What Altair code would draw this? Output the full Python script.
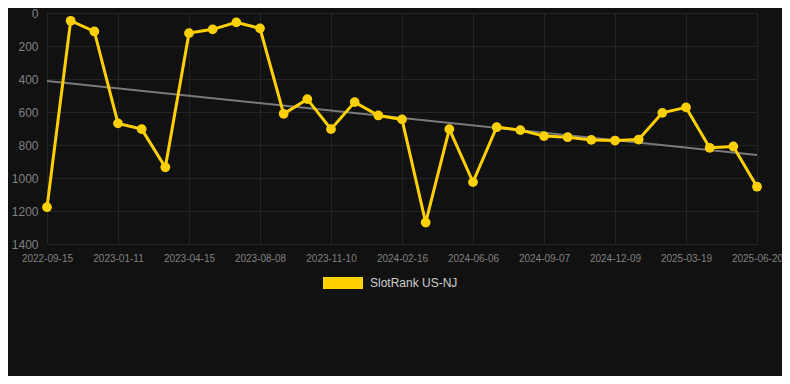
import altair as alt
import pandas as pd

dates = [
    "2022-09-15", "2022-10-24", "2022-12-02",
    "2023-01-11", "2023-02-11", "2023-03-14",
    "2023-04-15", "2023-05-23", "2023-06-30",
    "2023-08-08", "2023-09-08", "2023-10-09",
    "2023-11-10", "2023-12-13", "2024-01-14",
    "2024-02-16", "2024-03-24", "2024-04-30",
    "2024-06-06", "2024-07-07", "2024-08-07",
    "2024-09-07", "2024-10-08", "2024-11-08",
    "2024-12-09", "2025-01-11", "2025-02-14",
    "2025-03-19", "2025-04-19", "2025-05-20",
    "2025-06-20",
]
ranks = [
    1177, 47, 112,
    669, 704, 935,
    122, 99, 57,
    93, 611, 522,
    704, 540, 621,
    645, 1270, 704,
    1025, 692, 710,
    746, 753, 769,
    773, 767, 605,
    572, 817, 809,
    1053,
]
series_name = "SlotRank US-NJ"
y_ticks = [0, 200, 400, 600, 800, 1000, 1200, 1400]

df = pd.DataFrame({
    "idx": list(range(len(dates))),
    "date": dates,
    "rank": ranks,
    "series": [series_name] * len(dates),
})

label_expr = "[" + ",".join("'%s'" % d for d in dates) + "][datum.value]"
x_tick_vals = list(range(0, len(dates), 3))

x_enc = alt.X(
    "idx:Q",
    scale=alt.Scale(domain=[0, len(dates) - 1], nice=False, zero=False),
    axis=alt.Axis(values=x_tick_vals, labelExpr=label_expr, title=None,
                  ticks=False, domain=False, labelPadding=9, labelFontSize=10,
                  labelFlush=False, labelOverlap=False),
)
y_enc = alt.Y(
    "rank:Q",
    scale=alt.Scale(domain=[0, 1400], reverse=True, nice=False, zero=False),
    axis=alt.Axis(values=y_ticks, title=None, ticks=False, domain=False,
                  labelPadding=9, labelFontSize=12, format="d"),
)

base = alt.Chart(df)

trend = base.transform_regression("idx", "rank", method="linear").mark_line(
    color="#7a7a7a", strokeWidth=2
).encode(x=x_enc, y=y_enc)

line = base.mark_line(color="#FFD000", strokeWidth=3).encode(x=x_enc, y=y_enc)

points = base.mark_point(filled=True, size=95, opacity=1).encode(
    x=x_enc,
    y=y_enc,
    color=alt.Color(
        "series:N",
        scale=alt.Scale(domain=[series_name], range=["#FFD000"]),
        legend=alt.Legend(
            title=None, orient="none", legendX=276, legendY=250,
            symbolType="M-1,-0.3H1V0.3H-1Z", symbolSize=1600,
            symbolStrokeWidth=0, labelFontSize=12, labelColor="#cccccc",
            labelOffset=7, labelFont="Liberation Sans",
        ),
    ),
)

chart = alt.layer(trend, line, points).properties(
    width=710,
    height=231,
    background="#111111",
    padding={"left": 39, "top": 5, "right": 25, "bottom": 132},
    autosize=alt.AutoSizeParams(type="none"),
).configure(
    font="Liberation Sans"
).configure_view(
    stroke=None
).configure_axis(
    gridColor="#242424",
    gridWidth=1,
    labelColor="#808080",
    labelFont="Liberation Sans",
)

chart.save("out.html", embed_options={"renderer": "svg", "actions": False})
